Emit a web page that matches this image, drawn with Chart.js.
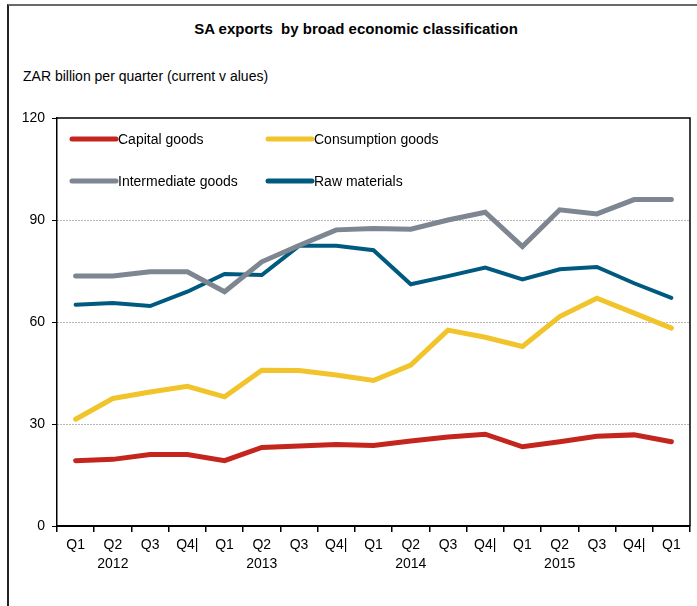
<!DOCTYPE html>
<html>
<head>
<meta charset="utf-8">
<script src="https://cdn.jsdelivr.net/npm/chart.js@4/dist/chart.umd.min.js"></script>
<style>
  html, body { margin: 0; padding: 0; background: #fff; }
  #wrap { position: relative; width: 697px; height: 606px; overflow: hidden; font-family: "Liberation Sans", Arial, sans-serif; }
  #frame { position: absolute; left: 7px; top: 4px; width: 720px; height: 640px; border-top: 2px solid #6a6a6a; border-left: 2px solid #222; }
  #title { position: absolute; left: 0; width: 712px; top: 20px; text-align: center; font-weight: bold; font-size: 15px; color: #000; }
  #subtitle { position: absolute; left: 23px; top: 68px; font-size: 14px; color: #000; }
  canvas { position: absolute; left: 0; top: 0; }
</style>
</head>
<body>
<div id="wrap">
  <div id="frame"></div>
  <div id="title">SA exports&nbsp; by broad economic classification</div>
  <div id="subtitle">ZAR billion per quarter (current v alues)</div>
  <canvas id="chart" width="697" height="606"></canvas>
</div>
<script>
// ---- data ----
const quarterLabels = ['Q1','Q2','Q3','Q4|','Q1','Q2','Q3','Q4|','Q1','Q2','Q3','Q4|','Q1','Q2','Q3','Q4|','Q1'];
const yearLabels    = ['','2012','','','','2013','','','','2014','','','','2015','','',''];

const capitalGoods      = [19.2, 19.6, 21.0, 21.0, 19.2, 23.1, 23.5, 24.0, 23.7, 25.0, 26.2, 27.0, 23.3, 24.8, 26.4, 26.8, 24.8];
const consumptionGoods  = [31.4, 37.5, 39.4, 41.1, 38.0, 45.8, 45.7, 44.4, 42.8, 47.3, 57.6, 55.5, 52.8, 61.6, 67.0, 62.6, 58.2];
const intermediateGoods = [73.5, 73.5, 74.8, 74.8, 68.9, 77.7, 82.5, 87.1, 87.5, 87.3, 90.0, 92.3, 82.2, 93.0, 91.8, 96.0, 96.0];
const rawMaterials      = [65.1, 65.6, 64.7, 68.9, 74.1, 73.8, 82.4, 82.4, 81.1, 71.1, 73.5, 76.0, 72.5, 75.5, 76.2, 71.4, 67.1];

const yTicks = [0, 30, 60, 90, 120];

const labels = quarterLabels.map((q, i) => yearLabels[i] ? [q, yearLabels[i]] : q);

const FONT = '"Liberation Sans", Arial, sans-serif';

const line = (label, data, color, width) => ({
  label, data,
  borderColor: color, backgroundColor: color,
  borderWidth: width, pointRadius: 0, tension: 0,
  borderCapStyle: 'round', borderJoinStyle: 'miter',
});

// top + right border of the plot
const plotFrame = {
  id: 'plotFrame',
  beforeDatasetsDraw(chart) {
    const { ctx, chartArea: a } = chart;
    ctx.save();
    ctx.strokeStyle = '#000';
    ctx.lineWidth = 1.5;
    ctx.beginPath();
    ctx.moveTo(a.left, a.top);
    ctx.lineTo(a.right, a.top);
    ctx.lineTo(a.right, a.bottom);
    ctx.stroke();
    ctx.restore();
  }
};

// two-column legend inside the plot
const insideLegend = {
  id: 'insideLegend',
  afterDraw(chart) {
    const { ctx, chartArea: a } = chart;
    const cols = [a.left + 15, a.left + 211];
    const rows = [a.top + 21, a.top + 63];
    ctx.save();
    ctx.font = '14px ' + FONT;
    ctx.textBaseline = 'middle';
    chart.data.datasets.forEach((ds, i) => {
      const x = cols[i % 2], y = rows[Math.floor(i / 2)];
      ctx.strokeStyle = ds.borderColor;
      ctx.lineWidth = 5;
      ctx.lineCap = 'round';
      ctx.beginPath();
      ctx.moveTo(x, y);
      ctx.lineTo(x + 44, y);
      ctx.stroke();
      ctx.fillStyle = '#000';
      ctx.fillText(ds.label, x + 46, y + 1);
    });
    ctx.restore();
  }
};

new Chart(document.getElementById('chart'), {
  type: 'line',
  data: {
    labels,
    datasets: [
      line('Capital goods', capitalGoods, '#C4261E', 5),
      line('Consumption goods', consumptionGoods, '#F1C42C', 5),
      line('Intermediate goods', intermediateGoods, '#7E8691', 5),
      line('Raw materials', rawMaterials, '#005A80', 4),
    ],
  },
  options: {
    responsive: false,
    animation: false,
    layout: { padding: { top: 118, right: 7, left: 0, bottom: 0 } },
    plugins: { legend: { display: false }, tooltip: { enabled: false } },
    scales: {
      x: {
        offset: true,
        afterFit: s => { s.height = 80; },
        grid: { offset: true, drawOnChartArea: false, drawTicks: true, tickLength: 6, tickColor: '#000', lineWidth: 1.5 },
        border: { color: '#000', width: 2 },
        ticks: { autoSkip: false, maxRotation: 0, color: '#000', padding: 4, font: { family: FONT, size: 14, lineHeight: 1.35 } },
      },
      y: {
        min: 0, max: 120,
        afterFit: s => { s.width = 57; },
        afterBuildTicks: s => { s.ticks = yTicks.map(v => ({ value: v })); },
        grid: {
          color: c => (c.tick && (c.tick.value === 0 || c.tick.value === 120)) ? 'rgba(0,0,0,0)' : '#6e6e6e',
          lineWidth: 1, tickLength: 5, tickColor: '#000',
        },
        border: { color: '#000', width: 1.5, dash: [1, 2] },
        ticks: { color: '#000', padding: 7, font: { family: FONT, size: 14 } },
      },
    },
  },
  plugins: [plotFrame, insideLegend],
});
</script>
</body>
</html>
